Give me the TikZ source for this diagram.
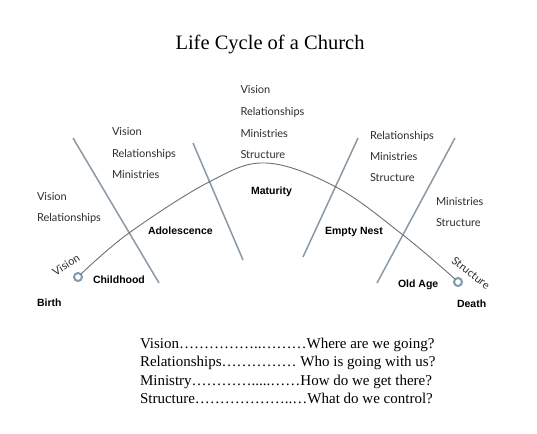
\documentclass[tikz,border=0pt]{standalone}
\usepackage{fontspec}
\setmainfont{Liberation Serif}
\newfontfamily\stagefont{Lato}
\newfontfamily\phasefont{Liberation Sans}
\usepackage{tikz}
\usepackage{xcolor}
\usetikzlibrary{positioning}
\definecolor{LineGrey}{HTML}{8A99A6}
\definecolor{CurveGrey}{HTML}{707070}
\definecolor{DotBlue}{HTML}{7C9BAE}
\definecolor{WordGrey}{HTML}{2E2E2E}
\tikzset{
    every node/.style={inner sep=0pt, outer sep=0pt},
    stageword/.style={
        anchor=base west, text=WordGrey,
        font=\stagefont\fontsize{11}{13}\selectfont
    },
    phase/.style={
        anchor=base west, text=black,
        font=\phasefont\bfseries\fontsize{10.5}{12}\selectfont
    },
    divider/.style={
        draw=LineGrey, line width=1.5pt
    },
    lifecurve/.style={
        draw=CurveGrey, line width=0.9pt
    },
    enddot/.style={
        circle, draw=DotBlue, fill=white, line width=2pt, minimum size=8pt
    },
    keyline/.style={
        anchor=base west, font=\fontsize{15}{18}\selectfont
    },
}

\begin{document}
\begin{tikzpicture}[x=1pt, y=1pt]
    \useasboundingbox (0,0) rectangle (537,-433);

    % Title
    \node[anchor=base, font=\fontsize{20.5}{24}\selectfont] (title) at (270,-50) {Life Cycle of a Church};

    % Stage dividers
    \coordinate (d1top) at (73,-138);  \coordinate (d1bot) at (159,-283);
    \coordinate (d2top) at (193,-143); \coordinate (d2bot) at (243,-260);
    \coordinate (d3top) at (358,-138); \coordinate (d3bot) at (303,-257);
    \coordinate (d4top) at (455,-138); \coordinate (d4bot) at (377,-283);
    \draw[divider] (d1top) -- (d1bot);
    \draw[divider] (d2top) -- (d2bot);
    \draw[divider] (d3top) -- (d3bot);
    \draw[divider] (d4top) -- (d4bot);

    % Birth and death dots
    \node[enddot] (birthdot) at (78,-277) {};
    \node[enddot] (deathdot) at (458,-282) {};

    % Life curve
    \draw[lifecurve] plot[smooth, tension=0.6] coordinates {(birthdot.45) (129,-233) (209,-182) (266,-163) (336,-187) (403,-235) (deathdot.135)};

    % Slanted words on the curve
    \node[stageword, anchor=center, rotate=33] (slopevision) at (66,-265) {Vision};
    \node[stageword, anchor=center, rotate=-38] (slopestructure) at (471,-273) {Structure};

    % Childhood
    \node[stageword] (avision) at (37,-200.5) {Vision};
    \node[stageword] (arel) at (37,-221.7) {Relationships};

    % Adolescence
    \node[stageword] (bvision) at (112,-135.7) {Vision};
    \node[stageword] (brel) at (112,-157.3) {Relationships};
    \node[stageword] (bmin) at (112,-178.3) {Ministries};

    % Maturity
    \node[stageword] (cvision) at (240.5,-94) {Vision};
    \node[stageword] (crel) at (240.5,-115.7) {Relationships};
    \node[stageword] (cmin) at (240.5,-137.7) {Ministries};
    \node[stageword] (cstr) at (240.5,-158) {Structure};

    % Empty nest
    \node[stageword] (drel) at (370,-139) {Relationships};
    \node[stageword] (dmin) at (370,-160) {Ministries};
    \node[stageword] (dstr) at (370,-181) {Structure};

    % Old age
    \node[stageword] (emin) at (436,-205) {Ministries};
    \node[stageword] (estr) at (436,-226) {Structure};

    % Phase names
    \node[phase] (birth) at (37,-306.7) {Birth};
    \node[phase] (childhood) at (93,-283) {Childhood};
    \node[phase] (adolescence) at (148,-234) {Adolescence};
    \node[phase] (maturity) at (251,-194) {Maturity};
    \node[phase] (emptynest) at (325,-234) {Empty Nest};
    \node[phase] (oldage) at (398,-287) {Old Age};
    \node[phase] (death) at (457,-307) {Death};

    % Key
    \node[keyline] (keyvision) at (140,-348.3) {Vision……………..………Where are we going?};
    \node[keyline] (keyrel) at (140,-366.7) {Relationships…………… Who is going with us?};
    \node[keyline] (keymin) at (140,-385) {Ministry………….....……How do we get there?};
    \node[keyline] (keystr) at (140,-403.3) {Structure………………..…What do we control?};
\end{tikzpicture}
\end{document}
